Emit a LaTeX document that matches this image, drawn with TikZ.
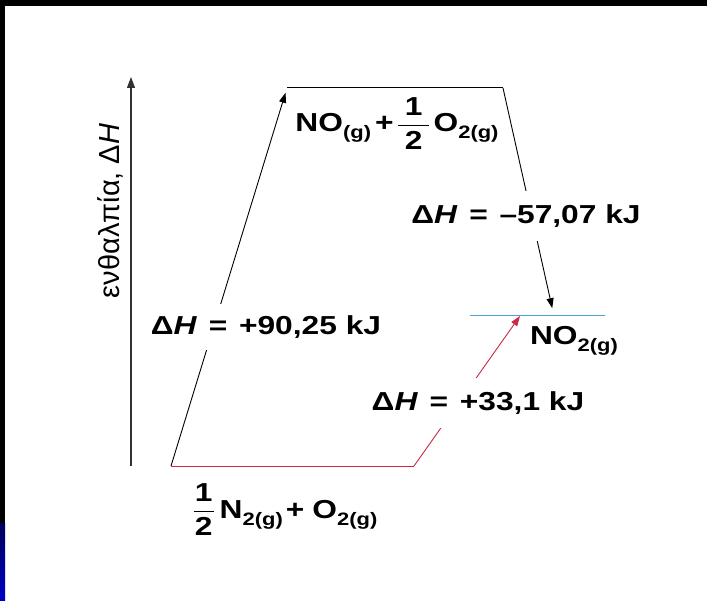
\documentclass[tikz,border=0pt]{standalone}
\usepackage{fontspec}
\usepackage{amsmath}
\usepackage{graphicx}
\setmainfont[FakeStretch=1.22]{Liberation Sans}
\newfontfamily\axisfont{Liberation Sans}
\usetikzlibrary{arrows.meta}
\definecolor{levred}{RGB}{205,40,70}
\definecolor{levblue}{RGB}{70,165,210}
\definecolor{stripblue}{RGB}{0,0,200}
\definecolor{stripdark}{RGB}{0,0,90}
\definecolor{axisgray}{RGB}{50,50,50}
\newcommand{\eqsp}{\hspace{0.45em}}
\newcommand{\chsub}[1]{\raisebox{-7pt}{\fontsize{18}{20}\selectfont #1}}
\newcommand{\halfwide}{$\dfrac{\text{1}}{\text{\hspace{7pt}2\hspace{7pt}}}$}
\newcommand{\halfnarrow}{$\dfrac{\text{1}}{\text{\hspace{1pt}2\hspace{1pt}}}$}
\begin{document}
\begin{tikzpicture}[x=1pt,y=-1pt,
  lbl/.style={font=\fontsize{26}{30}\selectfont\bfseries, inner sep=0pt},
  dh/.style={lbl, fill=white, inner xsep=2pt, inner ysep=12pt},
  conn/.style={line width=0.9pt, -{Triangle[length=10pt,width=7pt]}},
  level/.style={line width=1pt}
]
\useasboundingbox (0,0) rectangle (707,601);
\fill[white] (0,0) rectangle (707,601);
\fill[black] (0,0) rectangle (707,6);
\fill[black] (0,0) rectangle (5,523);
\shade[top color=stripdark, bottom color=stripblue] (0,523) rectangle (5,601);

% axis
\coordinate (axb) at (131,466);
\coordinate (axt) at (131,77);
\draw[axisgray, line width=1.1pt, -{Triangle[length=11pt,width=8pt]}] (axb) -- (axt);
\node[rotate=90, inner sep=0pt, font=\axisfont\fontsize{29}{32}\selectfont] (ylab) at (110,211) {ενθαλπία, Δ\textit{H}};

% levels
\coordinate (r0) at (171,466);
\coordinate (r1) at (414,466);
\coordinate (n0) at (287,88);
\coordinate (n1) at (503,88);
\coordinate (p0) at (470,316);
\coordinate (p1) at (605,316);
\coordinate (p2) at (554,316);
\coordinate (p3) at (520,316);
\draw[level, levred] (r0) -- (r1);
\draw[level] (n0) -- (n1);
\draw[level, levblue] (p0) -- (p1);

% connectors
\draw[conn, shorten >=5pt] (r0) -- (n0);
\draw[conn, shorten >=8pt] (n1) -- (p2);
\draw[conn, levred] (r1) -- (p3);

% enthalpy labels
\node[dh] (dh1) at (266,327) {Δ\textit{H}\eqsp=\eqsp+90,25 kJ};
\node[dh, inner ysep=14pt] (dh2) at (526,216) {Δ\textit{H}\eqsp=\eqsp–57,07 kJ};
\node[dh, inner ysep=14pt] (dh3) at (478,403) {Δ\textit{H}\eqsp=\eqsp+33,1 kJ};

% species
\node[lbl, anchor=base] (no) at (397,132) {NO\chsub{(g)}\hspace{4pt}+\hspace{3pt}\halfwide\hspace{3pt}O\chsub{2(g)}};
\node[lbl, anchor=base] (no2) at (574,345) {NO\chsub{2(g)}};
\node[lbl, anchor=base] (react) at (285,518) {\halfnarrow\hspace{5pt}N\chsub{2(g)}\hspace{3pt}+\hspace{8pt}O\chsub{2(g)}};
\end{tikzpicture}
\end{document}
